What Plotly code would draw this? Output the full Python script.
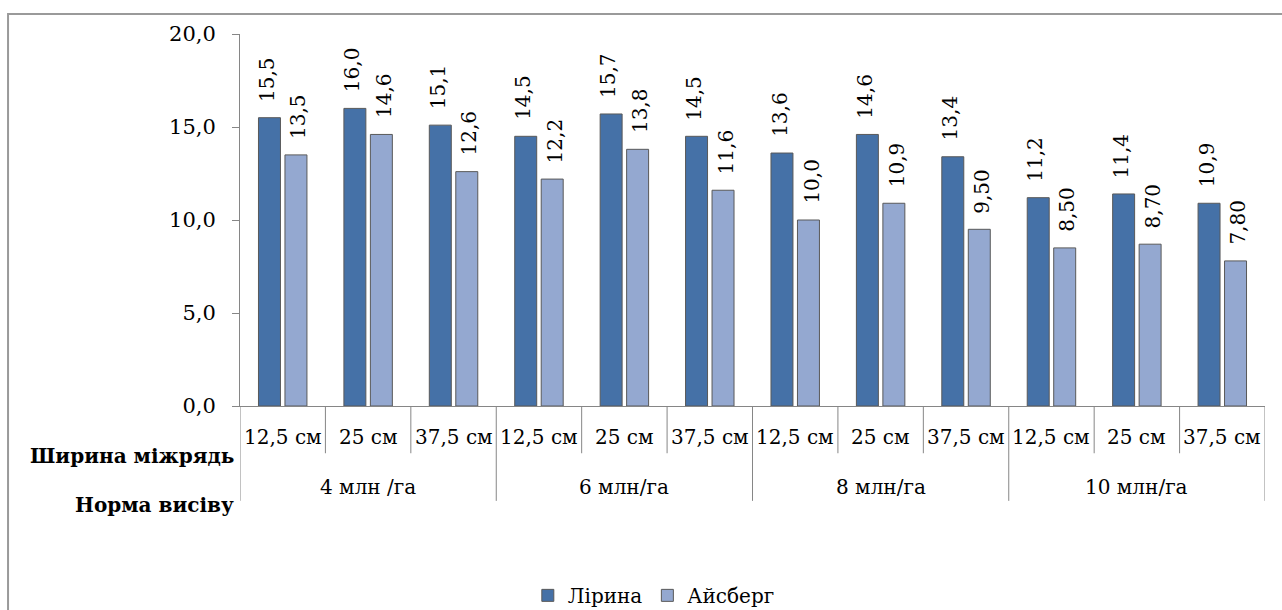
import plotly.graph_objects as go

# Row spacing and sowing rate for each of the 12 plots
spacing = ["12,5 см", "25 см", "37,5 см"] * 4
rates = ["4 млн /га", "6 млн/га", "8 млн/га", "10 млн/га"]

lirina = [15.5, 16.0, 15.1, 14.5, 15.7, 14.5, 13.6, 14.6, 13.4, 11.2, 11.4, 10.9]
aisberg = [13.5, 14.6, 12.6, 12.2, 13.8, 11.6, 10.0, 10.9, 9.50, 8.50, 8.70, 7.80]

y_ticks = [0, 5, 10, 15, 20]

FONT = "DejaVu Serif"
DARK = "#4571a7"
LIGHT = "#94a8d0"
EDGE = "#595959"
AXIS = "#868686"
FS = 20

x = list(range(len(spacing)))


def fmt(v):
    return f"{v:#.3g}".replace(".", ",")


fig = go.Figure()
fig.add_trace(go.Bar(x=x, y=lirina, name="Лірина",
                     marker=dict(color=DARK, line=dict(color=EDGE, width=1))))
fig.add_trace(go.Bar(x=x, y=aisberg, name="Айсберг",
                     marker=dict(color=LIGHT, line=dict(color=EDGE, width=1))))

annotations = []
shapes = []

# Rotated value labels above each bar
n = len(x)
for series, off in ((lirina, -0.186), (aisberg, 0.186)):
    for i, v in enumerate(series):
        annotations.append(dict(
            x=i + off, y=v, xref="x", yref="y", text=fmt(v),
            textangle=-90, showarrow=False, xanchor="center", yanchor="bottom",
            yshift=14, font=dict(family=FONT, size=FS, color="#000")))

# Inner category row (row spacing)
for i, lab in enumerate(spacing):
    annotations.append(dict(
        x=i, y=-0.083, xref="x", yref="paper", text=lab, showarrow=False,
        xanchor="center", yanchor="middle",
        font=dict(family=FONT, size=FS, color="#000")))

# Outer category row (sowing rate)
for g, lab in enumerate(rates):
    annotations.append(dict(
        x=3 * g + 1, y=-0.218, xref="x", yref="paper", text=lab, showarrow=False,
        xanchor="center", yanchor="middle",
        font=dict(family=FONT, size=FS, color="#000")))

# Row titles on the left
annotations.append(dict(
    x=-0.004, y=-0.135, xref="paper", yref="paper", text="<b>Ширина міжрядь</b>",
    showarrow=False, xanchor="right", yanchor="middle",
    font=dict(family=FONT, size=FS, color="#000")))
annotations.append(dict(
    x=-0.004, y=-0.265, xref="paper", yref="paper", text="<b>Норма висіву</b>",
    showarrow=False, xanchor="right", yanchor="middle",
    font=dict(family=FONT, size=FS, color="#000")))

# Divider lines below the axis
for k in range(n + 1):
    bottom = -0.255 if k % 3 == 0 else -0.127
    shapes.append(dict(type="line", xref="x", yref="paper",
                       x0=k - 0.5, x1=k - 0.5, y0=0, y1=bottom,
                       line=dict(color=AXIS, width=1)))

# Outer frame of the chart
shapes.append(dict(type="rect", xref="paper", yref="paper",
                   x0=-0.2263, x1=1.2, y0=-0.7, y1=1.0538,
                   line=dict(color="#9a9a9a", width=2), layer="below"))

fig.update_layout(
    width=1282, height=610,
    margin=dict(l=240, r=17, t=34, b=204),
    paper_bgcolor="white", plot_bgcolor="white",
    barmode="group", bargap=0.38, bargroupgap=0.17,
    font=dict(family=FONT, size=FS, color="#000"),
    showlegend=True,
    legend=dict(orientation="h", xref="container", yref="container",
                x=0.51, y=0.024, xanchor="center", yanchor="middle",
                font=dict(family=FONT, size=FS, color="#000"),
                itemwidth=30, tracegroupgap=0),
    xaxis=dict(range=[-0.5, n - 0.5], showticklabels=False, ticks="",
               showgrid=False, zeroline=False, showline=True,
               linecolor=AXIS, linewidth=1),
    yaxis=dict(range=[0, 20], tickvals=y_ticks,
               ticktext=[f"{v:.1f}".replace(".", ",") for v in y_ticks],
               ticks="outside", ticklen=7, tickcolor=AXIS, showgrid=False,
               zeroline=False, showline=True, linecolor=AXIS, linewidth=1,
               ticklabelstandoff=12,
               tickfont=dict(family=FONT, size=21, color="#000")),
    annotations=annotations,
    shapes=shapes,
)

fig.write_html("out.html")
